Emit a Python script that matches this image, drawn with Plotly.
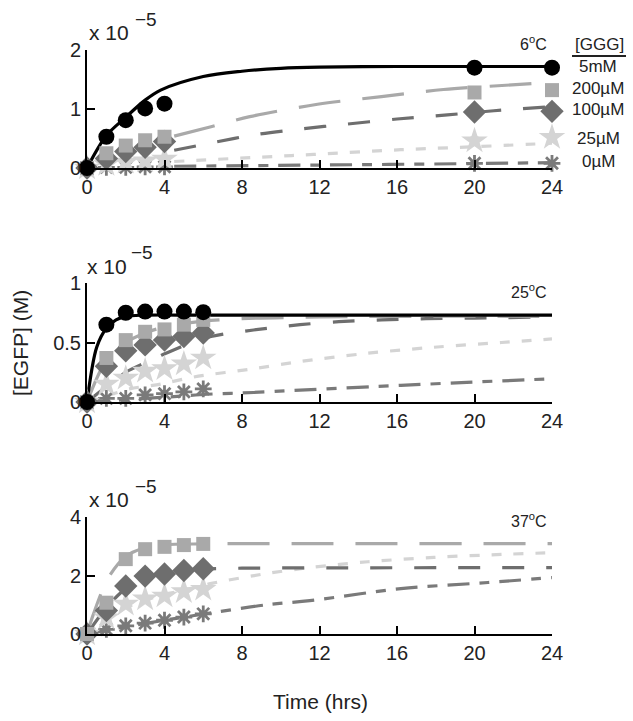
import plotly.graph_objects as go

W, H = 633, 721

# ---------------- data (units of 1e-5 M) ----------------
labels = ["5mM", "200\u00b5M", "100\u00b5M", "25\u00b5M", "0\u00b5M"]
colors = ["#000000", "#a9a9a9", "#6e6e6e", "#d4d4d4", "#7a7a7a"]
symbols = ["circle", "square", "diamond", "star", "asterisk-open"]
msizes = [16, 14, 18, 20, 14]
dashes = ["solid", "42px,22px", "22px,22px", "10px,12px", "22px,10px,10px,10px"]

# Panel 1: 6 C
t1 = [0, 1, 2, 3, 4, 20, 24]
p1 = {
    "5mM": [0, 0.53, 0.81, 1.01, 1.09, 1.70, 1.70],
    "200\u00b5M": [0, 0.25, 0.38, 0.47, 0.53, 1.28, 1.32],
    "100\u00b5M": [0, 0.16, 0.28, 0.35, 0.45, 0.95, 0.96],
    "25\u00b5M": [0, 0.06, 0.10, 0.12, 0.15, 0.46, 0.52],
    "0\u00b5M": [0, 0.01, 0.01, 0.02, 0.02, 0.08, 0.08],
}
e1 = {
    "5mM": [0, 0.03, 0.04, 0.06, 0.07, 0.06, 0.04],
    "200\u00b5M": [0, 0.03, 0.04, 0.05, 0.05, 0.09, 0.04],
    "100\u00b5M": [0, 0.03, 0.03, 0.04, 0.05, 0.08, 0.04],
    "25\u00b5M": [0, 0.02, 0.02, 0.02, 0.03, 0.06, 0.04],
    "0\u00b5M": [0, 0.01, 0.01, 0.01, 0.01, 0.02, 0.02],
}
c1 = {
    "5mM": ([0, 1, 2, 3, 3.8, 6, 8, 10, 12, 16, 20, 24],
            [0, 0.55, 0.86, 1.15, 1.32, 1.55, 1.64, 1.69, 1.71, 1.72, 1.72, 1.72]),
    "200\u00b5M": ([4.5, 6.4, 8.4, 11.9, 15.2, 18.4, 21, 24],
                  [0.54, 0.70, 0.87, 1.08, 1.21, 1.33, 1.39, 1.45]),
    "100\u00b5M": ([4.5, 6.5, 8.6, 11, 13, 16, 18.6, 21, 24],
                  [0.30, 0.43, 0.56, 0.66, 0.73, 0.83, 0.90, 0.97, 1.04]),
    "25\u00b5M": ([4.5, 9.3, 11.7, 16.2, 20, 24],
                 [0.11, 0.19, 0.23, 0.31, 0.36, 0.42]),
    "0\u00b5M": ([4.5, 12, 20, 24],
                [0.03, 0.05, 0.075, 0.09]),
}

# Panel 2: 25 C
t2 = [0, 1, 2, 3, 4, 5, 6]
p2 = {
    "5mM": [0, 0.65, 0.75, 0.76, 0.76, 0.76, 0.755],
    "200\u00b5M": [0, 0.37, 0.52, 0.59, 0.61, 0.65, 0.69],
    "100\u00b5M": [0, 0.30, 0.43, 0.48, 0.52, 0.55, 0.58],
    "25\u00b5M": [0, 0.15, 0.20, 0.26, 0.28, 0.32, 0.37],
    "0\u00b5M": [0, 0.03, 0.03, 0.06, 0.07, 0.085, 0.11],
}
c2 = {
    "5mM": ([0, 0.5, 1, 1.5, 2, 3, 6, 24],
            [0, 0.46, 0.62, 0.69, 0.72, 0.73, 0.73, 0.73]),
    "200\u00b5M": ([0, 1, 2, 3, 4, 6, 8, 12, 16, 24],
                  [0, 0.35, 0.50, 0.58, 0.63, 0.68, 0.70, 0.715, 0.72, 0.72]),
    "100\u00b5M": ([0, 1, 2, 3, 3.8, 4.5, 6.4, 8.6, 11, 13, 15.2, 17.5, 20, 24],
                  [0, 0.13, 0.25, 0.33, 0.39, 0.44, 0.55, 0.605, 0.65, 0.675, 0.69, 0.70, 0.705, 0.715]),
    "25\u00b5M": ([0, 1, 2.2, 3.8, 5.5, 8.6, 11, 14.5, 17.9, 21.4, 24],
                 [0, 0.05, 0.11, 0.15, 0.21, 0.28, 0.34, 0.41, 0.46, 0.50, 0.53]),
    "0\u00b5M": ([0, 2, 4, 6.2, 8.6, 11, 16.2, 19.6, 24],
                [0, 0.02, 0.04, 0.065, 0.08, 0.10, 0.14, 0.165, 0.195]),
}

# Panel 3: 37 C (no 5mM series)
t3 = [0, 1, 2, 3, 4, 5, 6]
p3 = {
    "200\u00b5M": [0, 1.07, 2.56, 2.90, 2.98, 3.04, 3.08],
    "100\u00b5M": [0, 0.80, 1.64, 1.98, 2.05, 2.17, 2.23],
    "25\u00b5M": [0, 0.55, 1.02, 1.20, 1.30, 1.45, 1.53],
    "0\u00b5M": [0, 0.16, 0.28, 0.37, 0.47, 0.58, 0.69],
}
e3 = {
    "200\u00b5M": [0, 0.15, 0.10, 0.08, 0.08, 0.10, 0.10],
    "100\u00b5M": [0, 0.12, 0.12, 0.12, 0.12, 0.18, 0.20],
    "25\u00b5M": [0, 0.08, 0.08, 0.08, 0.08, 0.10, 0.10],
    "0\u00b5M": [0, 0.05, 0.05, 0.05, 0.05, 0.06, 0.06],
}
c3 = {
    "200\u00b5M": ([0, 0.3, 1.1, 2, 3, 4, 6, 8, 24],
                  [0, 0.62, 1.92, 2.65, 2.95, 3.05, 3.08, 3.09, 3.09]),
    "100\u00b5M": ([0, 1, 2, 3, 4, 6, 8, 12, 24],
                  [0, 0.90, 1.55, 1.90, 2.08, 2.22, 2.25, 2.26, 2.27]),
    "25\u00b5M": ([0, 1, 2, 3, 4, 5, 6.5, 9.3, 11.5, 14.5, 17.9, 21.4, 24],
                 [0, 0.50, 0.90, 1.15, 1.35, 1.50, 1.74, 2.07, 2.27, 2.47, 2.62, 2.72, 2.78]),
    "0\u00b5M": ([0, 2, 4, 6.5, 9.3, 11.5, 16.2, 20.7, 24],
                [0, 0.25, 0.47, 0.73, 1.00, 1.14, 1.55, 1.76, 1.93]),
}

x_ticks = [0, 4, 8, 12, 16, 20, 24]
y_ticks = [[0, 1, 2], [0, 0.5, 1], [0, 2, 4]]
y_ticklabels = [["0", "1", "2"], ["0", "0.5", "1"], ["0", "2", "4"]]
y_ranges = [[0, 2], [0, 1], [0, 4]]
temps = ["6<sup>o</sup>C", "25<sup>o</sup>C", "37<sup>o</sup>C"]

# ---------------- layout geometry (pixels) ----------------
FONT = "Liberation Sans, Arial, Helvetica, sans-serif"
x_left, x_right = 87, 552
panels_px = [(50, 168), (283, 402), (517, 634)]  # (top, bottom) in pixels


def fx(px):
    return px / W


def fy(py):
    return 1 - py / H


fig = go.Figure()

panel_data = [(t1, p1, e1, c1), (t2, p2, None, c2), (t3, p3, e3, c3)]
for i, (tt, pts, errs, curves) in enumerate(panel_data):
    xa = "x" if i == 0 else f"x{i+1}"
    ya = "y" if i == 0 else f"y{i+1}"
    # model curves (draw light ones first)
    for k in [3, 4, 2, 1, 0]:
        lab = labels[k]
        if lab not in curves:
            continue
        cx, cy = curves[lab]
        fig.add_trace(go.Scatter(
            x=cx, y=cy, mode="lines", xaxis=xa, yaxis=ya,
            line=dict(color=colors[k], width=3.2, dash=dashes[k], shape="spline", smoothing=0.9),
            showlegend=False, hoverinfo="skip", cliponaxis=False))
    # data points
    for k in [4, 3, 2, 1, 0]:
        lab = labels[k]
        if lab not in pts:
            continue
        err = None
        if errs is not None:
            err = dict(type="data", array=errs[lab], color=colors[k], thickness=2, width=4)
        if symbols[k] == "asterisk-open":
            mk = dict(symbol=symbols[k], size=msizes[k], color=colors[k],
                      line=dict(width=2.8, color=colors[k]))
        else:
            mk = dict(symbol=symbols[k], size=msizes[k], color=colors[k], line=dict(width=0))
        fig.add_trace(go.Scatter(
            x=tt, y=pts[lab], mode="markers", xaxis=xa, yaxis=ya,
            marker=mk, error_y=err, showlegend=False, cliponaxis=False, name=lab))

axis_common = dict(
    showline=True, linecolor="black", linewidth=2, mirror=False,
    ticks="inside", ticklen=8, tickwidth=2, tickcolor="black",
    showgrid=False, zeroline=False, automargin=False,
    tickfont=dict(family=FONT, size=20, color="#222222"),
)

layout = dict(
    width=W, height=H, autosize=False,
    margin=dict(l=0, r=0, t=0, b=0, pad=0),
    paper_bgcolor="white", plot_bgcolor="white",
    font=dict(family=FONT, color="#222222"),
    showlegend=False,
)
for i, (top, bot) in enumerate(panels_px):
    xn = "xaxis" if i == 0 else f"xaxis{i+1}"
    yn = "yaxis" if i == 0 else f"yaxis{i+1}"
    ya = "y" if i == 0 else f"y{i+1}"
    xa = "x" if i == 0 else f"x{i+1}"
    layout[xn] = dict(axis_common, domain=[fx(x_left), fx(x_right)], range=[0, 24],
                      tickvals=x_ticks, ticktext=[str(v) for v in x_ticks], anchor=ya)
    layout[yn] = dict(axis_common, domain=[fy(bot), fy(top)], range=y_ranges[i],
                      tickvals=y_ticks[i], ticktext=y_ticklabels[i], anchor=xa)
fig.update_layout(**layout)

ann = []
# x 10^-5 multipliers
mult_pos = [(87, 33, 133, 20), (85, 266, 129, 252), (87, 499, 133, 486)]
for (xx, yy, sx, sy) in mult_pos:
    ann.append(dict(text="x 10", x=fx(xx), y=fy(yy), xref="paper", yref="paper",
                    xanchor="left", yanchor="middle", showarrow=False,
                    font=dict(family=FONT, size=21, color="#222222")))
    ann.append(dict(text="\u22125", x=fx(sx), y=fy(sy), xref="paper", yref="paper",
                    xanchor="left", yanchor="middle", showarrow=False,
                    font=dict(family=FONT, size=19, color="#222222")))
# temperature labels
temp_pos = [(549, 43), (549, 291), (549, 520)]
for txt, (xx, yy) in zip(temps, temp_pos):
    ann.append(dict(text=txt, x=fx(xx), y=fy(yy), xref="paper", yref="paper",
                    xanchor="right", yanchor="middle", showarrow=False,
                    font=dict(family=FONT, size=16, color="#222222")))
# legend-like labels
ann.append(dict(text="[GGG]", x=fx(599), y=fy(45), xref="paper", yref="paper",
                xanchor="center", yanchor="middle", showarrow=False,
                font=dict(family=FONT, size=17, color="#222222")))
leg_y = [67, 89, 110, 138, 161]
for lab, yy in zip(labels, leg_y):
    ann.append(dict(text=lab, x=fx(598), y=fy(yy), xref="paper", yref="paper",
                    xanchor="center", yanchor="middle", showarrow=False,
                    font=dict(family=FONT, size=17, color="#222222")))
# axis titles
ann.append(dict(text="[EGFP] (M)", x=fx(20), y=fy(343), xref="paper", yref="paper",
                xanchor="center", yanchor="middle", textangle=-90, showarrow=False,
                font=dict(family=FONT, size=21, color="#222222")))
ann.append(dict(text="Time (hrs)", x=fx(320), y=fy(701), xref="paper", yref="paper",
                xanchor="center", yanchor="middle", showarrow=False,
                font=dict(family=FONT, size=21, color="#222222")))
fig.update_layout(annotations=ann)

fig.add_shape(type="line", xref="paper", yref="paper",
              x0=fx(572), x1=fx(626), y0=fy(56), y1=fy(56),
              line=dict(color="#222222", width=2))

fig.write_html("out.html", config={"displayModeBar": False},
               post_script="document.body.style.margin='0px';")
